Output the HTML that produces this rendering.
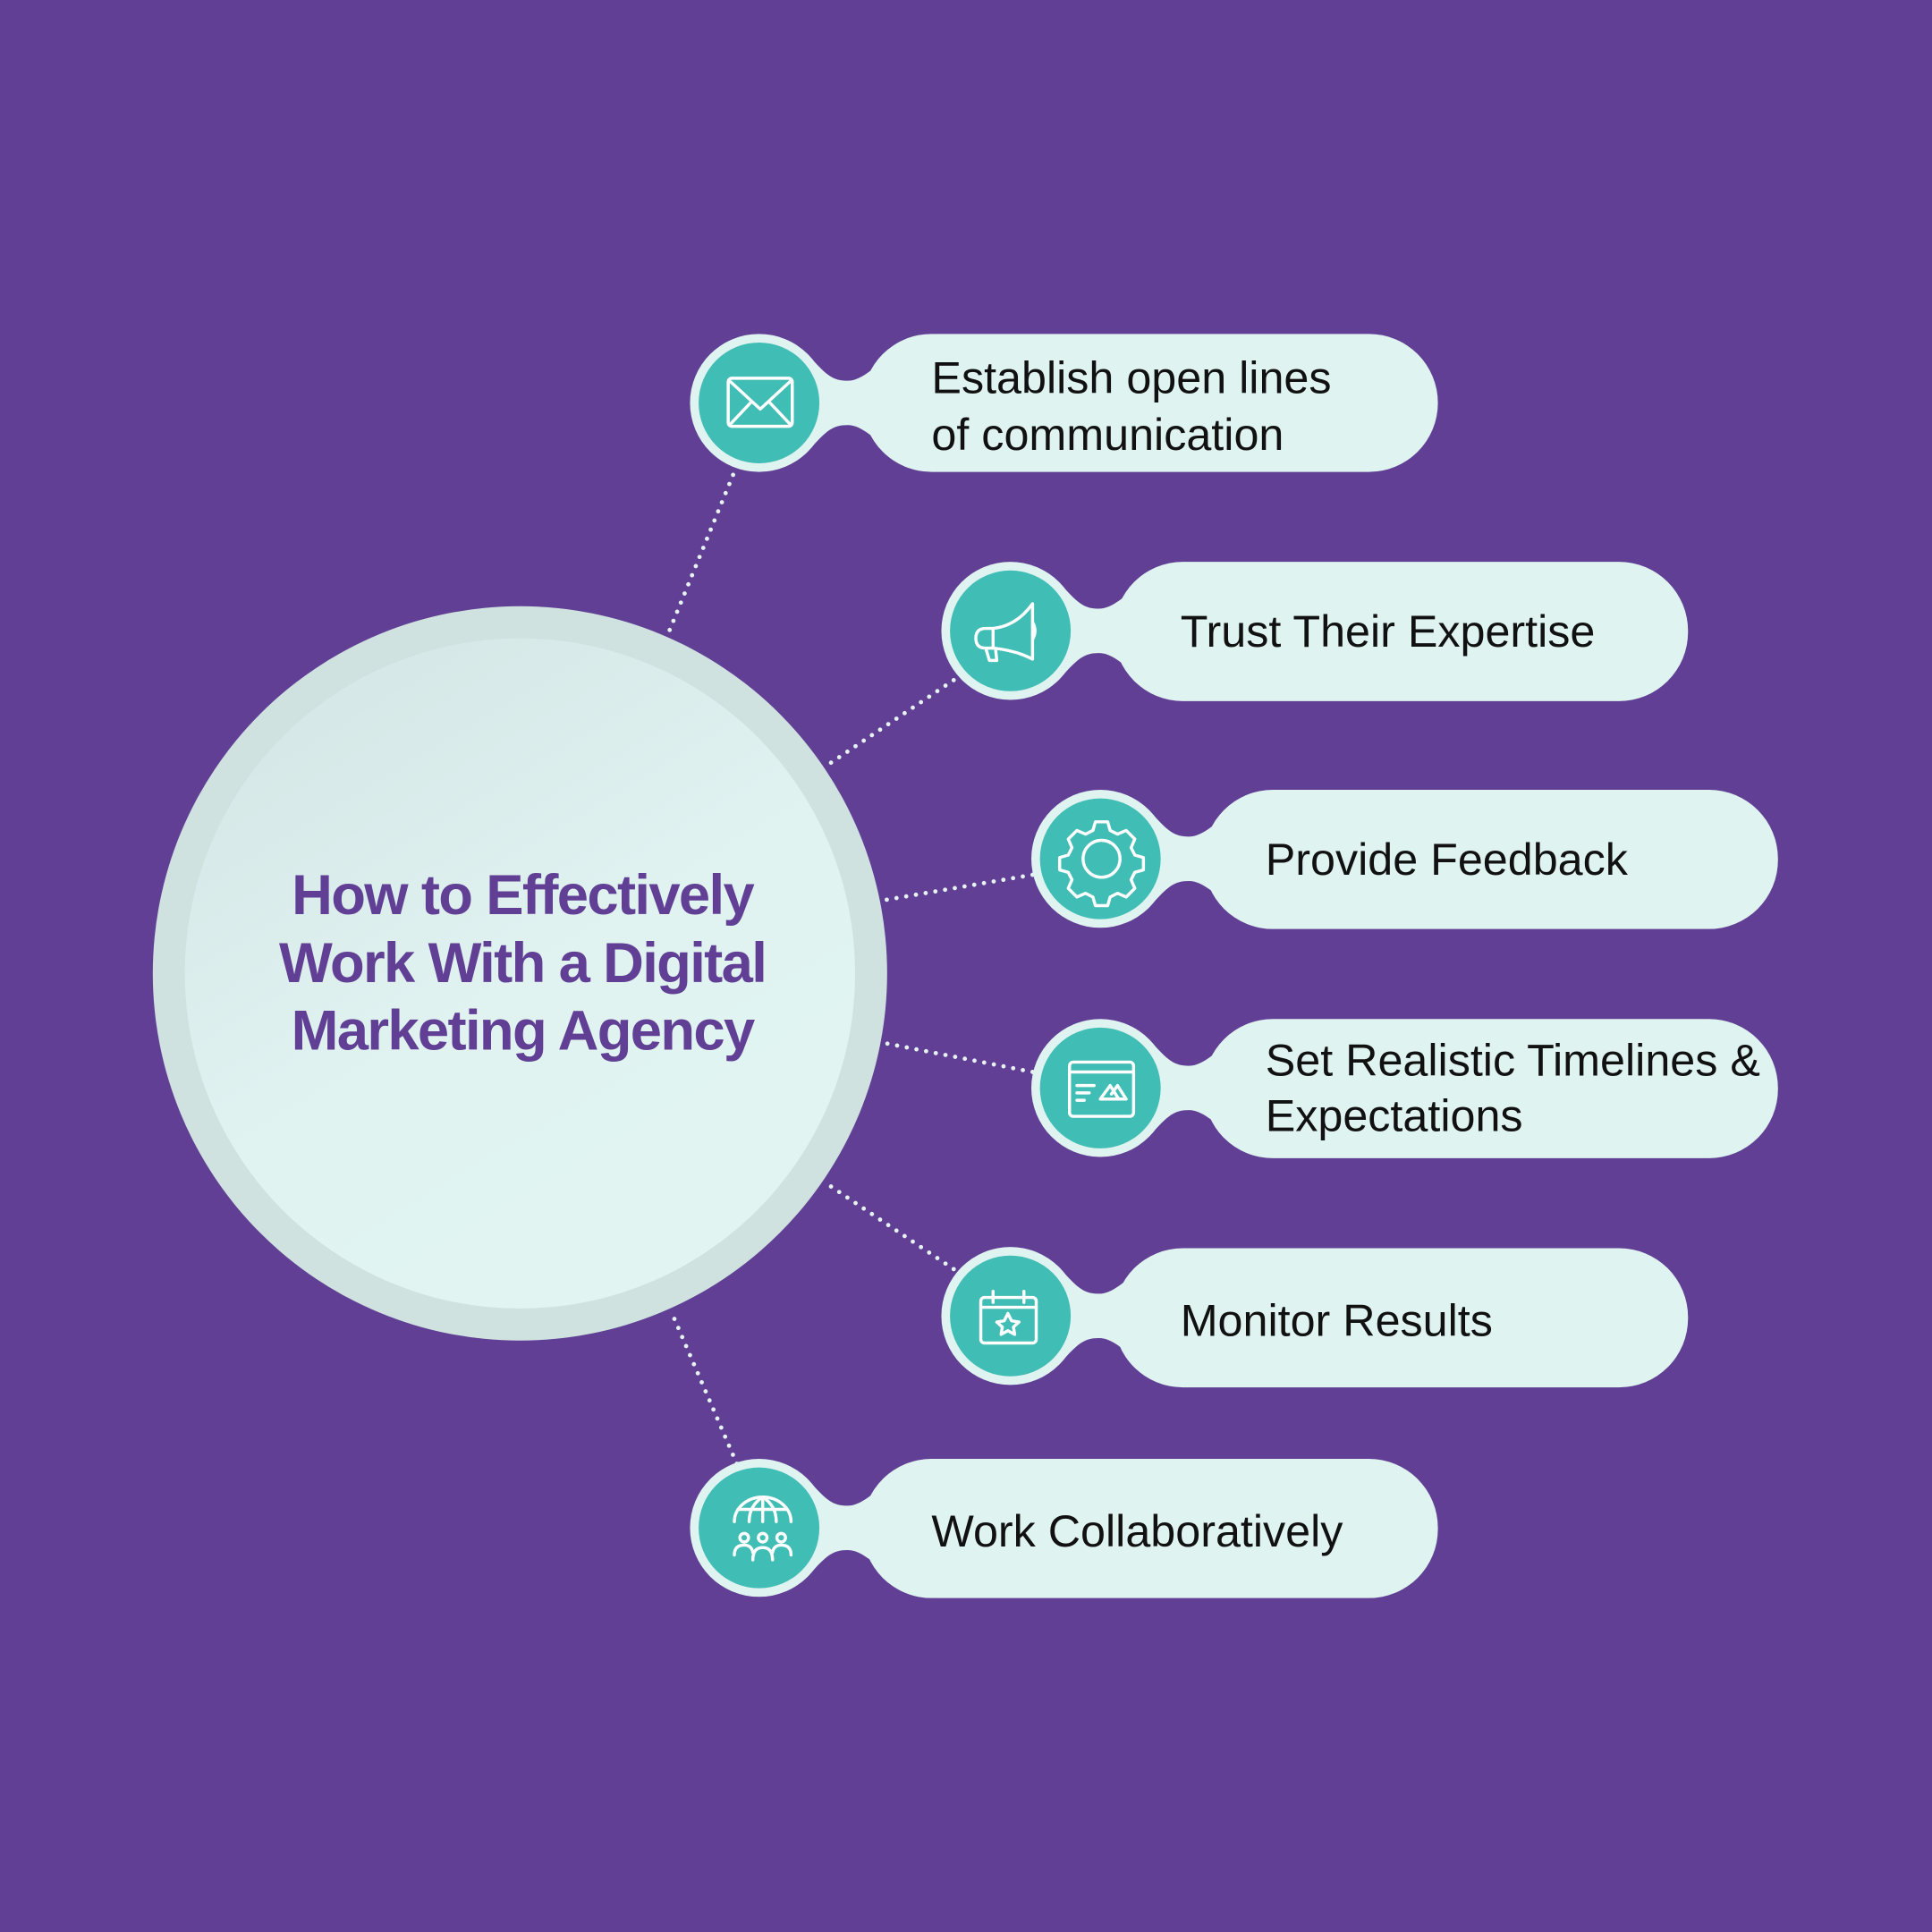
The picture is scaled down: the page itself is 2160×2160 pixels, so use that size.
<!DOCTYPE html>
<html><head><meta charset="utf-8"><style>html,body{margin:0;padding:0;background:#603f94}svg{display:block}</style></head><body>
<svg width="2160" height="2160" viewBox="0 0 1568 1568" xmlns="http://www.w3.org/2000/svg">
<defs>
<linearGradient id="g" x1="0" y1="0" x2="0.6" y2="1"><stop offset="0" stop-color="#d2e4e3"/><stop offset="0.6" stop-color="#e0f3f1"/><stop offset="1" stop-color="#e1f4f2"/></linearGradient>
<g id="node">
<path d="M40 -39 C55 -22 60 -18 72 -18 C84 -18 94 -30 114 -44 L114 44 C94 30 84 18 72 18 C60 18 55 22 40 39 Z" fill="#dff3f1"/>
<circle cx="0" cy="0" r="56" fill="#dff3f1"/>
<circle cx="0" cy="0" r="49" fill="#40bdb4"/>
</g>
</defs>
<rect width="1568" height="1568" fill="#603f94"/>
<g stroke="#e6f3f2" stroke-width="3.5" stroke-linecap="round" stroke-dasharray="0 8" fill="none">
<line x1="598" y1="378" x2="542" y2="515"/>
<line x1="774" y1="552" x2="670" y2="622"/>
<line x1="838" y1="710" x2="715" y2="731"/>
<line x1="838" y1="870" x2="715" y2="846"/>
<line x1="774" y1="1030" x2="670" y2="960"/>
<line x1="598" y1="1188" x2="545" y2="1065"/>
</g>
<circle cx="422" cy="790" r="298" fill="#cfe2e0"/>
<circle cx="422" cy="790" r="272" fill="url(#g)"/>
<text x="424" y="742" font-family="Liberation Sans, sans-serif" font-weight="bold" font-size="46" fill="#603f94" text-anchor="middle" letter-spacing="-1.2">How to Effectively</text>
<text x="424" y="797" font-family="Liberation Sans, sans-serif" font-weight="bold" font-size="46" fill="#603f94" text-anchor="middle" letter-spacing="-1.2">Work With a Digital</text>
<text x="424" y="852" font-family="Liberation Sans, sans-serif" font-weight="bold" font-size="46" fill="#603f94" text-anchor="middle" letter-spacing="-1.2">Marketing Agency</text>

<g font-family="Liberation Sans, sans-serif" font-size="36.5" fill="#111">
<rect x="700" y="271" width="467" height="112" rx="56" fill="#dff3f1"/>
<use href="#node" x="616" y="327"/>
<text x="756" y="319">Establish open lines</text><text x="756" y="365">of communication</text>
<rect x="904" y="456" width="466" height="113" rx="56" fill="#dff3f1"/>
<use href="#node" x="820" y="512"/>
<text x="958" y="525">Trust Their Expertise</text>
<rect x="977" y="641" width="466" height="113" rx="56" fill="#dff3f1"/>
<use href="#node" x="893" y="697"/>
<text x="1027" y="710">Provide Feedback</text>
<rect x="977" y="827" width="466" height="113" rx="56" fill="#dff3f1"/>
<use href="#node" x="893" y="883"/>
<text x="1027" y="873">Set Realistic Timelines &amp;</text><text x="1027" y="918">Expectations</text>
<rect x="904" y="1013" width="466" height="113" rx="56" fill="#dff3f1"/>
<use href="#node" x="820" y="1068"/>
<text x="958" y="1084">Monitor Results</text>
<rect x="700" y="1184" width="467" height="113" rx="56" fill="#dff3f1"/>
<use href="#node" x="616" y="1240"/>
<text x="756" y="1255">Work Collaboratively</text>
</g>

<g stroke="#fff" stroke-width="2.5" fill="none" stroke-linejoin="round" stroke-linecap="round">
<rect x="591" y="307" width="52" height="39" rx="3"/>
<path d="M592 309 L617 332 L642 309 M592 345 L610 326 M642 345 L624 326"/>
<path d="M838 490 Q825 508 806 510 L800 510 Q792 510 792 518 Q792 526 800 526 L806 526 Q825 528 838 535 Z M806 510 L806 526 M800 526 L803 536 L809 536 L808 527 M838 505 Q842 512 838 519"/>
<circle cx="894" cy="697" r="15"/>
<path d="M889 667 h10 l2 7 l6 3 l7-3 l7 7 l-3 7 l3 6 l7 2 v10 l-7 2 l-3 6 l3 7 l-7 7 l-7-3 l-6 3 l-2 7 h-10 l-2-7 l-6-3 l-7 3 l-7-7 l3-7 l-3-6 l-7-2 v-10 l7-2 l3-6 l-3-7 l7-7 l7 3 l6-3 z"/>
<rect x="868" y="862" width="52" height="44" rx="3"/>
<path d="M868 870 H920 M874 881 H888 M874 887 H884 M874 893 H880 M893 892 L901 881 L908 892 Z M902 888 L907 881 L914 892 H906"/>
<rect x="796" y="1053" width="45" height="37" rx="3"/>
<path d="M796 1061 H841 M806 1048 V1057 M831 1048 V1057 M818 1066 l3 6 l6 1 l-4.5 4 l1 6 l-5.5-3 l-5.5 3 l1-6 l-4.5-4 l6-1 z"/>
<path d="M596 1235 A23 20 0 0 1 642 1235 M619 1215 V1235 M608 1235 Q608 1222 619 1215 Q630 1222 630 1235 M599 1225 H639"/>
<circle cx="604" cy="1248" r="3.5"/><circle cx="619" cy="1248" r="3.5"/><circle cx="634" cy="1248" r="3.5"/>
<path d="M596 1262 Q596 1254 604 1254 Q610 1254 611 1260 M611 1266 Q611 1256 619 1256 Q627 1256 627 1266 M627 1260 Q628 1254 634 1254 Q642 1254 642 1262"/>
</g>
</svg>
</body></html>
